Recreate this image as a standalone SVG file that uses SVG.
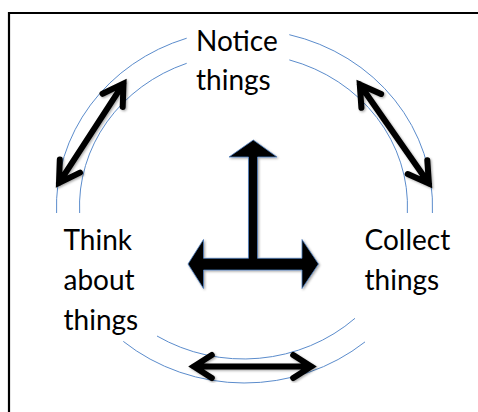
<svg xmlns="http://www.w3.org/2000/svg" width="478" height="412" viewBox="0 0 478 412">
  <style>
    .ring { fill: none; stroke: #5b8ccc; stroke-width: 1; }
    .arrow { fill: none; stroke: #000; stroke-width: 6; stroke-linecap: round; stroke-linejoin: miter; filter: url(#shadow); }
    .label { font-family: Lato, "Open Sans", "Liberation Sans", sans-serif; font-size: 28px; fill: #000; }
  </style>
  <defs>
    <filter id="shadow" x="-20%" y="-20%" width="140%" height="140%">
      <feDropShadow dx="1.2" dy="1.2" stdDeviation="1.2" flood-color="#000" flood-opacity="0.35"/>
    </filter>
  </defs>
  <rect width="478" height="412" fill="#fff"/>
  <path d="M9,420 V13 H480" fill="none" stroke="#000" stroke-width="2.2"/>

  <g id="cycle">
    <path class="ring" d="M186.7,38.2 A188,176.7 0 0 0 56.6,213"/>
    <path class="ring" d="M123.3,341.4 A188,176.7 0 0 0 365,341.9"/>
    <path class="ring" d="M432.4,213 A188,176.7 0 0 0 289.3,34.7"/>
    <path class="ring" d="M186.7,63.3 A164,152.6 0 0 0 79.65,213"/>
    <path class="ring" d="M157,336 A164,152.6 0 0 0 355,318.3"/>
    <path class="ring" d="M407.35,213 A164,152.6 0 0 0 289.3,59.9"/>
  </g>

  <g id="connectors">
    <path class="arrow" d="M123.5,83.6 L59,182.9 M102.5,93.8 L123.5,83.6 L122.7,106.9 M59.8,159.6 L59,182.9 L80,172.6"/>
    <path class="arrow" d="M359.8,84.5 L428.9,183.5 M381.1,94 L359.8,84.5 L361.4,107.8 M427.3,160.2 L428.9,183.5 L407.7,174"/>
    <path class="arrow" d="M193.8,366.5 L311.2,366.5 M211.8,355 L193.8,366.5 L211.8,378 M293.2,355 L311.2,366.5 L293.2,378"/>
    <polygon id="center-arrow" points="253.3,140 277,157 257.5,157 257.5,258.3 302,258.3 302,239.5 318.5,264 302,288.5 302,270 203.5,270 203.5,288.5 188,264 203.5,239.5 203.5,258.3 248.5,258.3 248.5,157 229,157" fill="#000" stroke="#4f7fbf" stroke-width="0.8" stroke-linejoin="miter" filter="url(#shadow)"/>
  </g>

  <g id="notice">
    <text class="label" x="196" y="51">Notice</text>
    <text class="label" x="196" y="89.5">things</text>
  </g>
  <g id="think">
    <text class="label" x="63.5" y="250">Think</text>
    <text class="label" x="63.5" y="290">about</text>
    <text class="label" x="63.5" y="330">things</text>
  </g>
  <g id="collect">
    <text class="label" x="364.5" y="250">Collect</text>
    <text class="label" x="364.5" y="290">things</text>
  </g>
</svg>
